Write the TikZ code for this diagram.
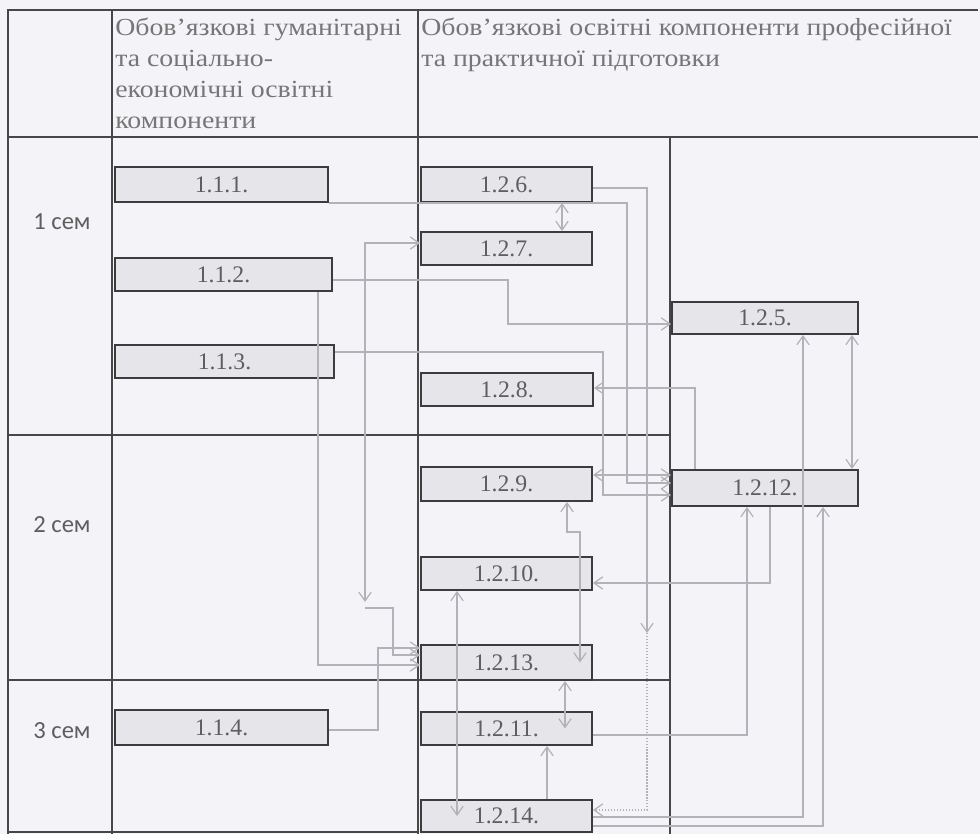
\documentclass[tikz,border=0pt]{standalone}
\usepackage{fontspec}
\setmainfont{Liberation Serif}
\newfontfamily\semfont{Carlito}
\newfontfamily\hdrfont[FakeStretch=1.13]{Liberation Serif}
\usetikzlibrary{arrows.meta}
\definecolor{paper}{HTML}{F4F4F8}
\definecolor{rule}{HTML}{474747}
\definecolor{boxfill}{HTML}{E5E5EA}
\definecolor{boxedge}{HTML}{3C3C3C}
\definecolor{linkgray}{HTML}{B2B2B8}
\definecolor{ink}{HTML}{5E5E5E}
\tikzset{
  course/.style={draw=boxedge, fill=boxfill, line width=1.1pt, inner sep=0pt, font=\fontsize{13.5}{15}\selectfont, text=ink},
  hdr/.style={anchor=north west, align=left, inner sep=0pt, text=ink!85, font=\hdrfont\fontsize{14}{17.6}\selectfont},
  sem/.style={text=ink, font=\semfont\fontsize{14}{16}\selectfont},
  link/.style={draw=linkgray, line width=0.7pt},
  arr/.style={link, -{Straight Barb[length=5pt,width=7pt]}},
  arrs/.style={link, {Straight Barb[length=5pt,width=7pt]}-{Straight Barb[length=5pt,width=7pt]}},
  dots/.style={densely dotted}
}
\newcommand{\course}[6]{ \node[course, minimum width={(#4-#2)*0.02cm}, minimum height={(#5-#3)*0.02cm}] (#1) at ( #2 * 0.5 + #4 * 0.5 , #3 * 0.5 + #5 * 0.5 ){#6};}

\begin{document}
\begin{tikzpicture}[x=0.02cm, y=-0.02cm]
        \fill[paper] (0,0) rectangle (980,834);
        \useasboundingbox (0,0) rectangle (980,834);
        % table
        \draw[rule, line width=0.9pt] (8,834) -- (8,10) -- (978,10);
        \draw[rule, line width=0.9pt] (8,137) -- (978,137);
        \draw[rule, line width=0.9pt] (112,10) -- (112,834);
        \draw[rule, line width=0.9pt] (418,10) -- (418,834);
        \draw[rule, line width=0.9pt] (670,137) -- (670,834);
        \draw[rule, line width=0.9pt] (8,435) -- (670,435);
        \draw[rule, line width=0.9pt] (8,680) -- (670,680);
        \draw[rule, line width=0.9pt] (8,832) -- (418,832);

        % header
        \node[hdr] (hdrA) at (115,18) {Обов’язкові гуманітарні\\та соціально-\\економічні освітні\\компоненти};
        \node[hdr] (hdrB) at (421,18) {Обов’язкові освітні компоненти професійної\\та практичної підготовки};

        % semesters
        \node[sem] (sem1) at (62,222) {1 сем};
        \node[sem] (sem2) at (62,525) {2 сем};
        \node[sem] (sem3) at (62,731) {3 сем};

        % row1
        \course{c111}{115}{167}{328}{202}{1.1.1.}
        \course{c112}{115}{258}{332}{291}{1.1.2.}
        \course{c113}{115}{345}{334}{378}{1.1.3.}
        \course{c126}{421}{167}{592}{202}{1.2.6.}
        \course{c127}{421}{232}{592}{265}{1.2.7.}
        \course{c128}{421}{373}{593}{406}{1.2.8.}
        \course{c125}{672}{302}{858}{334}{1.2.5.}
        % row2
        \course{c129}{421}{467}{592}{501}{1.2.9.}
        \course{c1210}{421}{557}{592}{590}{1.2.10.}
        \course{c1213}{421}{645}{592}{680}{1.2.13.}
        \course{c1212}{672}{470}{858}{506}{1.2.12.}
        % row3
        \course{c114}{115}{710}{328}{745}{1.1.4.}
        \course{c1211}{421}{712}{592}{745}{1.2.11.}
        \course{c1214}{421}{800}{592}{832}{1.2.14.}

        % links
        \draw[arr] (c111.east |- 0,203) -| (627,483) -- (c1212.west |- 0,483);
        \draw[arr] (c112.east |- 0,280) -| (508,324) -- (c125.west |- 0,324);
        \draw[arr] (c113.east |- 0,352) -| (603,495) -- (c1212.west |- 0,495);
        \draw[arr] (c112.south -| 318,0) |- (c1213.west |- 0,665);
        \draw[arrs] (c127.west |- 0,243) -| (365,602);
        \coordinate (k127) at (365,608);
        \draw[arr] (k127) -- (393,608) |- (c1213.west |- 0,655);
        \draw[arr] (c114.east |- 0,730) -| (378,648) -- (c1213.west |- 0,648);
        \draw[arrs] (c126.south -| 562,0) -- (c127.north -| 562,0);
        \draw[arr] (c126.east |- 0,188) -| (647,633) coordinate (k126);
        \draw[arr, dots] (k126) |- (c1214.east |- 0,810);
        \draw[arrs] (c129.east |- 0,475) -- (c1212.west |- 0,475);
        \draw[arr] (c1212.north -| 695,0) |- (c128.east |- 0,388);
        \draw[arrs] (c125.south -| 852,0) -- (c1212.north -| 852,0);
        \draw[arr] (c1212.south -| 770,0) |- (c1210.east |- 0,583);
        \draw[arr] (c1211.east |- 0,735) -| (c1212.south -| 747,0);
        \draw[arr] (c1214.east |- 0,817) -| (c125.south -| 803,0);
        \draw[arr] (c1214.east |- 0,826) -| (c1212.south -| 823,0);
        \draw[arrs] (c1210.south -| 457,0) -- (c1214.center -| 457,0);
        \draw[arrs] (c129.south -| 567,0) -- (567,532) -| (c1213.center -| 580,0);
        \draw[arrs] (c1213.south -| 565,0) -- (c1211.center -| 565,0);
        \draw[arr] (c1214.north -| 547,0) -- (c1211.south -| 547,0);
\end{tikzpicture}
\end{document}
